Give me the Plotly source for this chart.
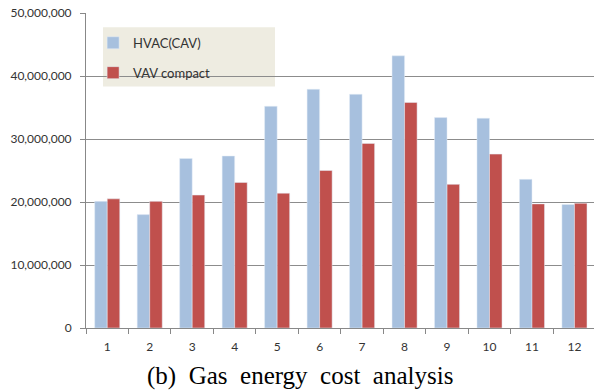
import plotly.graph_objects as go

months = ["1", "2", "3", "4", "5", "6", "7", "8", "9", "10", "11", "12"]
hvac_cav = [20.1e6, 18.0e6, 26.9e6, 27.3e6, 35.2e6, 37.9e6, 37.1e6, 43.2e6, 33.4e6, 33.3e6, 23.6e6, 19.6e6]
vav_compact = [20.5e6, 20.1e6, 21.1e6, 23.1e6, 21.4e6, 25.0e6, 29.3e6, 35.8e6, 22.8e6, 27.6e6, 19.7e6, 19.8e6]
y_ticks = [0, 10e6, 20e6, 30e6, 40e6, 50e6]
y_tick_labels = ["0", "10,000,000", "20,000,000", "30,000,000", "40,000,000", "50,000,000"]
caption = "(b)\u00a0\u00a0Gas\u00a0\u00a0energy\u00a0\u00a0cost\u00a0\u00a0analysis"

fig = go.Figure()
fig.add_trace(go.Bar(x=months, y=hvac_cav, name="HVAC(CAV)", marker_color="#A7C0DE",
                     legendgroup="a"))
fig.add_trace(go.Bar(x=months, y=vav_compact, name="VAV compact", marker_color="#C0504D",
                     legendgroup="b"))

fig.update_layout(
    width=594, height=392,
    margin=dict(l=86, r=0, t=13, b=64, autoexpand=False),
    paper_bgcolor="white", plot_bgcolor="white",
    barmode="group", bargap=0.41, bargroupgap=0,
    font=dict(family="Lato, Open Sans, sans-serif", size=12, color="#333333"),
    legend=dict(x=0.014, y=0.953, xanchor="left", yanchor="top",
                bgcolor="rgba(0,0,0,0)", tracegroupgap=10,
                font=dict(size=13, color="#333333"), itemwidth=30),
    shapes=[dict(type="rect", xref="paper", yref="paper",
                 x0=0.0335, x1=0.372, y0=0.767, y1=0.955,
                 fillcolor="#EEECE1", line=dict(width=0), layer="below")],
    annotations=[dict(text=caption, xref="paper", yref="paper", x=0.422, y=-0.1,
                      xanchor="center", yanchor="top", showarrow=False,
                      font=dict(family="Liberation Serif, Times New Roman, serif", size=25, color="black"))],
)
fig.update_xaxes(type="category", range=[-0.5, 11.46], tickson="boundaries",
                 ticks="outside", ticklen=5, tickcolor="#888888", automargin=False,
                 showline=True, linecolor="#888888", linewidth=1, ticklabelstandoff=8,
                 showgrid=False, tickfont=dict(size=12, color="#333333"))
fig.update_yaxes(range=[0, 50e6], tickvals=y_ticks, ticktext=y_tick_labels,
                 ticks="outside", ticklen=5, tickcolor="#888888", automargin=False,
                 ticklabeloverflow="allow",
                 showline=True, linecolor="#888888", linewidth=1, ticklabelstandoff=6,
                 showgrid=True, gridcolor="#8C8C8C", gridwidth=1,
                 zeroline=False, tickfont=dict(size=12, color="#333333"))

fig.write_html("out.html", config={"displayModeBar": False},
               post_script="document.body.style.margin='0';document.body.style.overflow='hidden';")
